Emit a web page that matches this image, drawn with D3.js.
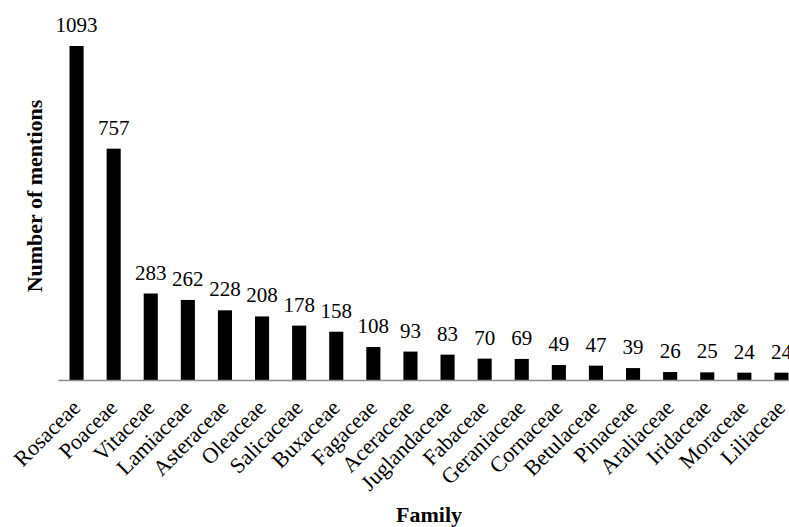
<!DOCTYPE html>
<html>
<head>
<meta charset="utf-8">
<script src="https://cdn.jsdelivr.net/npm/d3@7"></script>
<style>
  html, body { margin: 0; padding: 0; background: #fff; }
  svg { display: block; }
  text { font-family: "Liberation Serif", "Times New Roman", serif; fill: #000; }
</style>
</head>
<body>
<script>
const families = ["Rosaceae","Poaceae","Vitaceae","Lamiaceae","Asteraceae","Oleaceae","Salicaceae","Buxaceae","Fagaceae","Aceraceae","Juglandaceae","Fabaceae","Geraniaceae","Cornaceae","Betulaceae","Pinaceae","Araliaceae","Iridaceae","Moraceae","Liliaceae"];
const mentions = [1093,757,283,262,228,208,178,158,108,93,83,70,69,49,47,39,26,25,24,24];
const yTitle = "Number of mentions";
const xTitle = "Family";

const W = 789, H = 527;
const svg = d3.select("body").append("svg").attr("width", W).attr("height", H);

const x0 = 58, baseY = 380, topY = 46;
const step = 37.1;
const x = d3.scaleBand().domain(families).range([x0, x0 + step * families.length]).paddingInner(0.62).paddingOuter(0.31);
const y = d3.scaleLinear().domain([0, 1093]).range([baseY, topY]);

svg.append("g").selectAll("rect").data(families).join("rect")
  .attr("x", d => x(d))
  .attr("y", (d, i) => y(mentions[i]))
  .attr("width", x.bandwidth())
  .attr("height", (d, i) => baseY - y(mentions[i]))
  .attr("fill", "#000");

// baseline axis
const ax = svg.append("g").attr("transform", `translate(0,${baseY})`)
  .call(d3.axisBottom(x).tickSize(0).tickFormat(""));
ax.select(".domain").attr("stroke", "#8c8c8c").attr("stroke-width", 1.3);

// value labels
svg.append("g").selectAll("text").data(families).join("text")
  .attr("x", d => x(d) + x.bandwidth() / 2)
  .attr("y", (d, i) => y(mentions[i]) - 14)
  .attr("text-anchor", "middle")
  .style("font-size", "21px")
  .text((d, i) => mentions[i]);

// category labels
svg.append("g").selectAll("text").data(families).join("text")
  .attr("transform", d => `translate(${x(d) + x.bandwidth() / 2 + 5},${baseY + 29}) rotate(-45)`)
  .attr("text-anchor", "end")
  .style("font-size", "22px")
  .text(d => d);

// axis titles
svg.append("text")
  .attr("transform", `translate(42,196) rotate(-90)`)
  .attr("text-anchor", "middle")
  .style("font-size", "22px").style("font-weight", "bold")
  .text(yTitle);

svg.append("text")
  .attr("x", 429).attr("y", 522)
  .attr("text-anchor", "middle")
  .style("font-size", "22px").style("font-weight", "bold")
  .text(xTitle);
</script>
</body>
</html>
